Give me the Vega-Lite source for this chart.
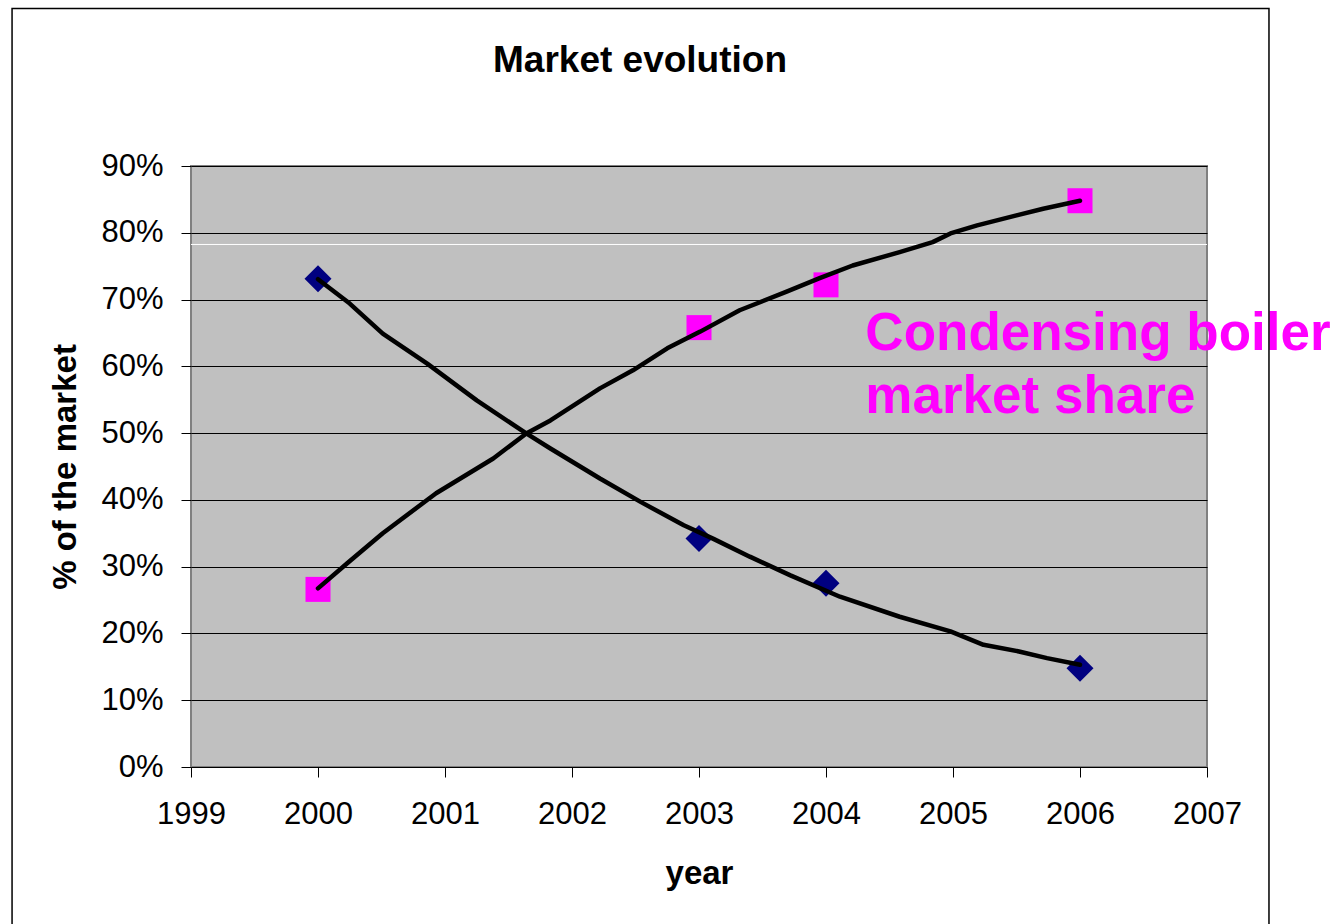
{
  "$schema": "https://vega.github.io/schema/vega-lite/v6.json",
  "width": 1016,
  "height": 601,
  "autosize": {"type": "none"},
  "padding": {"left": 191, "top": 166, "right": 132, "bottom": 157},
  "background": "white",
  "title": {
    "text": "Market evolution",
    "font": "Liberation Sans",
    "fontSize": 37,
    "fontWeight": "bold",
    "color": "black",
    "anchor": "middle",
    "frame": "group",
    "dx": -59,
    "offset": -72
  },
  "config": {
    "font": "Liberation Sans",
    "view": {"fill": "#C0C0C0", "stroke": "#808080", "strokeWidth": 2},
    "axis": {
      "labelFont": "Liberation Sans",
      "titleFont": "Liberation Sans",
      "labelColor": "black",
      "titleColor": "black",
      "tickColor": "black",
      "tickWidth": 1,
      "tickSize": 10,
      "domain": false
    }
  },
  "datasets": {
    "markers": [
      {"year": 2000, "share": 0.731, "series": "Conventional boilers"},
      {"year": 2003, "share": 0.342, "series": "Conventional boilers"},
      {"year": 2004, "share": 0.275, "series": "Conventional boilers"},
      {"year": 2006, "share": 0.148, "series": "Conventional boilers"},
      {"year": 2000, "share": 0.266, "series": "Condensing boilers"},
      {"year": 2003, "share": 0.658, "series": "Condensing boilers"},
      {"year": 2004, "share": 0.722, "series": "Condensing boilers"},
      {"year": 2006, "share": 0.848, "series": "Condensing boilers"}
    ],
    "trend": [
      {"year": 2000.00, "share": 0.7305, "series": "Conventional boilers"},
      {"year": 2000.25, "share": 0.694, "series": "Conventional boilers"},
      {"year": 2000.51, "share": 0.649, "series": "Conventional boilers"},
      {"year": 2000.86, "share": 0.604, "series": "Conventional boilers"},
      {"year": 2001.25, "share": 0.549, "series": "Conventional boilers"},
      {"year": 2001.64, "share": 0.4995, "series": "Conventional boilers"},
      {"year": 2001.83, "share": 0.477, "series": "Conventional boilers"},
      {"year": 2002.22, "share": 0.432, "series": "Conventional boilers"},
      {"year": 2002.54, "share": 0.397, "series": "Conventional boilers"},
      {"year": 2002.88, "share": 0.362, "series": "Conventional boilers"},
      {"year": 2003.11, "share": 0.342, "series": "Conventional boilers"},
      {"year": 2003.40, "share": 0.315, "series": "Conventional boilers"},
      {"year": 2003.72, "share": 0.287, "series": "Conventional boilers"},
      {"year": 2004.11, "share": 0.255, "series": "Conventional boilers"},
      {"year": 2004.58, "share": 0.225, "series": "Conventional boilers"},
      {"year": 2004.98, "share": 0.203, "series": "Conventional boilers"},
      {"year": 2005.24, "share": 0.183, "series": "Conventional boilers"},
      {"year": 2005.52, "share": 0.173, "series": "Conventional boilers"},
      {"year": 2005.74, "share": 0.163, "series": "Conventional boilers"},
      {"year": 2006.00, "share": 0.153, "series": "Conventional boilers"},
      {"year": 2000.00, "share": 0.2675, "series": "Condensing boilers"},
      {"year": 2000.23, "share": 0.305, "series": "Condensing boilers"},
      {"year": 2000.51, "share": 0.350, "series": "Condensing boilers"},
      {"year": 2000.93, "share": 0.410, "series": "Condensing boilers"},
      {"year": 2001.38, "share": 0.462, "series": "Condensing boilers"},
      {"year": 2001.64, "share": 0.4995, "series": "Condensing boilers"},
      {"year": 2001.83, "share": 0.519, "series": "Condensing boilers"},
      {"year": 2002.22, "share": 0.567, "series": "Condensing boilers"},
      {"year": 2002.48, "share": 0.594, "series": "Condensing boilers"},
      {"year": 2002.75, "share": 0.627, "series": "Condensing boilers"},
      {"year": 2003.01, "share": 0.652, "series": "Condensing boilers"},
      {"year": 2003.32, "share": 0.684, "series": "Condensing boilers"},
      {"year": 2003.69, "share": 0.712, "series": "Condensing boilers"},
      {"year": 2003.95, "share": 0.732, "series": "Condensing boilers"},
      {"year": 2004.21, "share": 0.751, "series": "Condensing boilers"},
      {"year": 2004.58, "share": 0.771, "series": "Condensing boilers"},
      {"year": 2004.84, "share": 0.786, "series": "Condensing boilers"},
      {"year": 2004.98, "share": 0.799, "series": "Condensing boilers"},
      {"year": 2005.19, "share": 0.811, "series": "Condensing boilers"},
      {"year": 2005.50, "share": 0.826, "series": "Condensing boilers"},
      {"year": 2005.71, "share": 0.836, "series": "Condensing boilers"},
      {"year": 2006.00, "share": 0.848, "series": "Condensing boilers"}
    ],
    "one": [{"note": "annotation"}]
  },
  "layer": [
    {
      "data": {"name": "one"},
      "mark": {"type": "rule", "color": "white", "strokeWidth": 1},
      "encoding": {
        "y": {"datum": 0.7825, "type": "quantitative", "scale": {"domain": [0, 0.9], "nice": false, "zero": false}}
      }
    },
    {
      "data": {"name": "markers"},
      "mark": {"type": "point", "filled": true, "opacity": 1, "strokeWidth": 0},
      "encoding": {
        "x": {
          "field": "year", "type": "quantitative",
          "scale": {"domain": [1999, 2007], "nice": false, "zero": false},
          "axis": {
            "values": [1999, 2000, 2001, 2002, 2003, 2004, 2005, 2006, 2007],
            "format": "d",
            "grid": false,
            "labelFlush": false,
            "labelOverlap": false,
            "labelFontSize": 31,
            "labelPadding": 22,
            "title": "year",
            "titleFontSize": 33,
            "titleFontWeight": "bold",
            "titlePadding": 28
          }
        },
        "y": {
          "field": "share", "type": "quantitative",
          "scale": {"domain": [0, 0.9], "nice": false, "zero": false},
          "axis": {
            "values": [0, 0.1, 0.2, 0.3, 0.4, 0.5, 0.6, 0.7, 0.8, 0.9],
            "format": ".0%",
            "grid": true,
            "gridColor": "black",
            "gridWidth": 1,
            "gridOpacity": 1,
            "labelFlush": false,
            "labelOverlap": false,
            "labelFontSize": 31,
            "labelPadding": 18,
            "title": "% of the market",
            "titleFontSize": 33,
            "titleFontWeight": "bold",
            "titlePadding": 18
          }
        },
        "shape": {
          "field": "series", "type": "nominal",
          "scale": {"domain": ["Conventional boilers", "Condensing boilers"], "range": ["diamond", "square"]},
          "legend": null
        },
        "color": {
          "field": "series", "type": "nominal",
          "scale": {"domain": ["Conventional boilers", "Condensing boilers"], "range": ["#000080", "#FF00FF"]},
          "legend": null
        },
        "size": {
          "field": "series", "type": "nominal",
          "scale": {"domain": ["Conventional boilers", "Condensing boilers"], "range": [729, 625]},
          "legend": null
        }
      }
    },
    {
      "data": {"name": "trend"},
      "mark": {"type": "line", "color": "black", "strokeWidth": 4.5, "strokeCap": "round", "strokeJoin": "round"},
      "encoding": {
        "x": {"field": "year", "type": "quantitative"},
        "y": {"field": "share", "type": "quantitative"},
        "detail": {"field": "series", "type": "nominal"}
      }
    },
    {
      "data": {"name": "one"},
      "mark": {
        "type": "text",
        "text": ["Condensing boiler", "market share"],
        "align": "left",
        "baseline": "alphabetic",
        "font": "Liberation Sans",
        "fontSize": 53,
        "fontWeight": "bold",
        "color": "#FF00FF",
        "lineHeight": 63
      },
      "encoding": {
        "x": {"datum": 2004.31, "type": "quantitative"},
        "y": {"datum": 0.625, "type": "quantitative"}
      }
    },
    {
      "data": {"name": "one"},
      "mark": {"type": "rect", "fill": null, "fillOpacity": 0, "stroke": "black", "strokeWidth": 1.5},
      "encoding": {
        "x": {"datum": 1997.591, "type": "quantitative"},
        "x2": {"datum": 2007.488},
        "y": {"datum": 1.136, "type": "quantitative"},
        "y2": {"datum": -0.3}
      }
    }
  ]
}
